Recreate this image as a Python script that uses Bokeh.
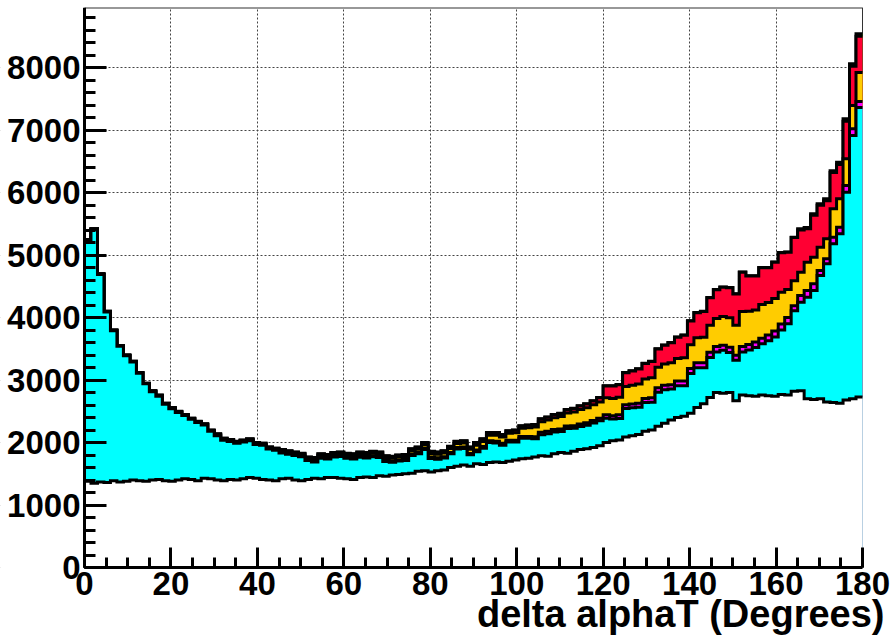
import numpy as np
from bokeh.plotting import figure
from bokeh.models import Range1d, SingleIntervalTicker, Label
from bokeh.embed import file_html
from bokeh.resources import INLINE

# Histogram binning: delta alphaT, 120 bins from 0 to 180 degrees
x_min, x_max, n_bins = 0.0, 180.0, 120
y_max = 8960

# Per-process bin contents (stack order: bottom -> top)
white = [1380, 1350, 1370, 1360, 1390, 1370, 1380, 1400, 1390, 1380,
         1400, 1410, 1390, 1380, 1400, 1420, 1410, 1390, 1430, 1420,
         1400, 1390, 1410, 1400, 1420, 1440, 1430, 1410, 1400, 1390,
         1420, 1430, 1400, 1390, 1410, 1430, 1420, 1440, 1440, 1430,
         1420, 1410, 1440, 1450, 1440, 1470, 1460, 1480, 1490, 1500,
         1510, 1540, 1550, 1530, 1550, 1560, 1600, 1620, 1640, 1620,
         1660, 1650, 1680, 1690, 1680, 1700, 1720, 1740, 1750, 1770,
         1790, 1780, 1820, 1840, 1830, 1860, 1890, 1900, 1920, 1950,
         2000, 2030, 2040, 2090, 2110, 2130, 2180, 2200, 2260, 2310,
         2360, 2400, 2420, 2470, 2560, 2620, 2720, 2800, 2790, 2800,
         2670, 2760, 2750, 2740, 2760, 2750, 2740, 2770, 2760, 2820,
         2830, 2700, 2690, 2700, 2650, 2640, 2630, 2680, 2700, 2730]

cyan = [3860, 4060, 3320, 2730, 2400, 2170, 2010, 1890, 1720, 1560,
        1412, 1332, 1222, 1162, 1082, 1012, 962, 932, 852, 762,
        707, 647, 607, 587, 587, 587, 537, 547, 497, 487,
        414, 384, 394, 384, 304, 258, 328, 298, 328, 348,
        327, 326, 324, 303, 331, 289, 237, 205, 213, 211,
        281, 279, 337, 215, 183, 191, 219, 277, 265, 183,
        192, 257, 319, 302, 277, 307, 287, 327, 317, 292,
        333, 360, 347, 335, 393, 370, 367, 375, 393, 400,
        390, 345, 345, 455, 445, 435, 460, 445, 545, 535,
        495, 510, 490, 635, 635, 575, 640, 650, 685, 640,
        645, 690, 730, 780, 820, 880, 950, 1030, 1140, 1290,
        1415, 1625, 1742, 1972, 2209, 2539, 2709, 3325, 4212, 4630]

magenta = [3] * 10 + [5] * 10 + [8] * 10 + [12] * 5 + [15] * 5 + \
          [18] * 10 + [22] * 10 + [30] * 10 + [40] * 10 + \
          [55, 55, 60, 60, 60, 65, 65, 70, 70, 70,
           70, 75, 75, 80, 80, 80, 85, 85, 80, 85,
           80, 85, 90, 90, 90, 90, 95, 95, 100, 80,
           107, 107, 107, 80, 80, 106, 106, 107, 107, 96]

yellow = [3] * 10 + [6] * 10 + [12] * 10 + [22] * 5 + [28] * 5 + \
         [32, 33, 35, 36, 38, 40, 42, 44, 46, 48,
          50, 52, 54, 56, 58, 60, 62, 64, 66, 68,
          75, 80, 88, 95, 100, 110, 120, 130, 140, 155,
          170, 180, 190, 200, 210, 220, 230, 240, 250, 260,
          270, 275, 280, 290, 300, 305, 310, 320, 330, 340,
          350, 360, 370, 380, 400, 410, 430, 450, 460, 470,
          480, 560, 530, 510, 540, 520, 520, 510, 450, 400,
          373, 453, 426, 373, 320, 454, 454, 427, 373, 464]

red = [3] * 10 + [5] * 10 + [10] * 10 + [18] * 5 + [24] * 5 + \
      [28] * 10 + [32] * 10 + [38] * 10 + \
      [42, 45, 48, 50, 52, 55, 58, 60, 62, 65,
       190, 200, 200, 220, 230, 240, 250, 260, 290, 300,
       320, 340, 360, 380, 400, 410, 440, 460, 470, 480,
       500, 630, 565, 545, 585, 555, 580, 630, 595, 690,
       675, 535, 670, 670, 611, 581, 551, 601, 628, 580]

green = [1] * 10 + [2] * 10 + [3] * 10 + [4] * 10 + [5] * 70 + \
        [20, 20, 25, 25, 30, 30, 35, 40, 40, 40]

layer_names = ["white", "cyan", "magenta", "yellow", "red", "green"]
layer_values = [white, cyan, magenta, yellow, red, green]
layer_colors = ["#ffffff", "#00ffff", "#ff00ff", "#ffcc00", "#ff0033", "#33aa00"]

for vals in layer_values:
    assert len(vals) == n_bins, len(vals)

y_tick_step = 1000
x_tick_step = 20
x_title = "delta alphaT (Degrees)"

# ---- layout (pixels) ----
W, H = 892, 643
left_px, top_px = 84, 7
frame_right_px, frame_bottom_px = 862, 567   # where x=180 and y=0 sit
px_per_x = (frame_right_px - left_px) / (x_max - x_min)
px_per_y = (frame_bottom_px - top_px) / y_max
# the drawing frame covers the whole window so no axis text gets clipped
x_start = -left_px / px_per_x
x_end = x_max + (W - frame_right_px) / px_per_x
y_start = -(H - frame_bottom_px) / px_per_y

edges = np.linspace(x_min, x_max, n_bins + 1)
cum = np.cumsum(np.array(layer_values, dtype=float), axis=0)

p = figure(width=W, height=H, output_backend="svg", toolbar_location=None,
           x_range=Range1d(x_start, x_end), y_range=Range1d(y_start, y_max),
           min_border_left=0, min_border_right=0, min_border_top=top_px,
           min_border_bottom=0)
p.background_fill_color = "white"
p.border_fill_color = "white"
p.outline_line_color = None

# white masks outside the real plotting frame (hide grid lines there)
pad_x, pad_y = 20.0, 1000.0
p.quad(left=[x_start - pad_x], right=[x_end + pad_x], bottom=[y_start - pad_y], top=[0],
       fill_color="white", line_color=None)
p.quad(left=[x_max], right=[x_end + pad_x], bottom=[y_start - pad_y], top=[y_max + pad_y],
       fill_color="white", line_color=None)
p.quad(left=[x_start - pad_x], right=[x_min], bottom=[y_start - pad_y], top=[y_max + pad_y],
       fill_color="white", line_color=None)
# right frame border (covered by fills like in ROOT)
p.line(x=[x_max, x_max], y=[0, y_max], line_color="#333333", line_width=1)

# ROOT THStack style: draw cumulative sums from the top down
for k in reversed(range(len(layer_values))):
    top = np.append(cum[k], cum[k][-1])
    p.varea_step(x=edges, y1=np.zeros_like(top), y2=top, step_mode="after",
                 fill_color=layer_colors[k])
    p.step(x=edges, y=top, mode="after", line_color="black", line_width=3,
           line_join="miter")

# top frame border
p.line(x=[x_min, x_max], y=[y_max, y_max], line_color="#333333", line_width=2)

xt = SingleIntervalTicker(interval=x_tick_step, num_minor_ticks=4)
yt = SingleIntervalTicker(interval=y_tick_step, num_minor_ticks=5)
p.xaxis.ticker = xt
p.yaxis.ticker = yt
p.xgrid.ticker = xt
p.ygrid.ticker = yt
p.xaxis.fixed_location = 0
p.yaxis.fixed_location = 0
p.xaxis.bounds = (x_min, x_max)
p.yaxis.bounds = (0, y_max)

for g in (p.xgrid, p.ygrid):
    g.grid_line_color = "#444444"
    g.grid_line_dash = "2 2"
    g.grid_line_width = 1

for ax in (p.xaxis, p.yaxis):
    ax.axis_line_width = 3
    ax.axis_line_color = "black"
    ax.major_tick_out = 0
    ax.minor_tick_out = 0
    ax.major_tick_line_width = 3
    ax.minor_tick_line_width = 3
    ax.major_label_text_font = "Liberation Sans"
    ax.major_label_text_font_style = "bold"
    ax.major_label_text_font_size = "33px"
    ax.major_label_text_color = "black"

p.xaxis.major_tick_in = 20
p.xaxis.minor_tick_in = 10
p.yaxis.major_tick_in = 22
p.yaxis.minor_tick_in = 11
p.xaxis.major_label_standoff = 4
p.yaxis.major_label_standoff = 4

title = Label(x=x_max, y=-(613 - frame_bottom_px) / px_per_y, x_offset=22,
              text=x_title, text_align="right", text_baseline="middle",
              text_font="Liberation Sans", text_font_style="bold",
              text_font_size="38px", text_color="black")
p.add_layout(title)

open("out.html", "w").write(file_html(p, INLINE))
